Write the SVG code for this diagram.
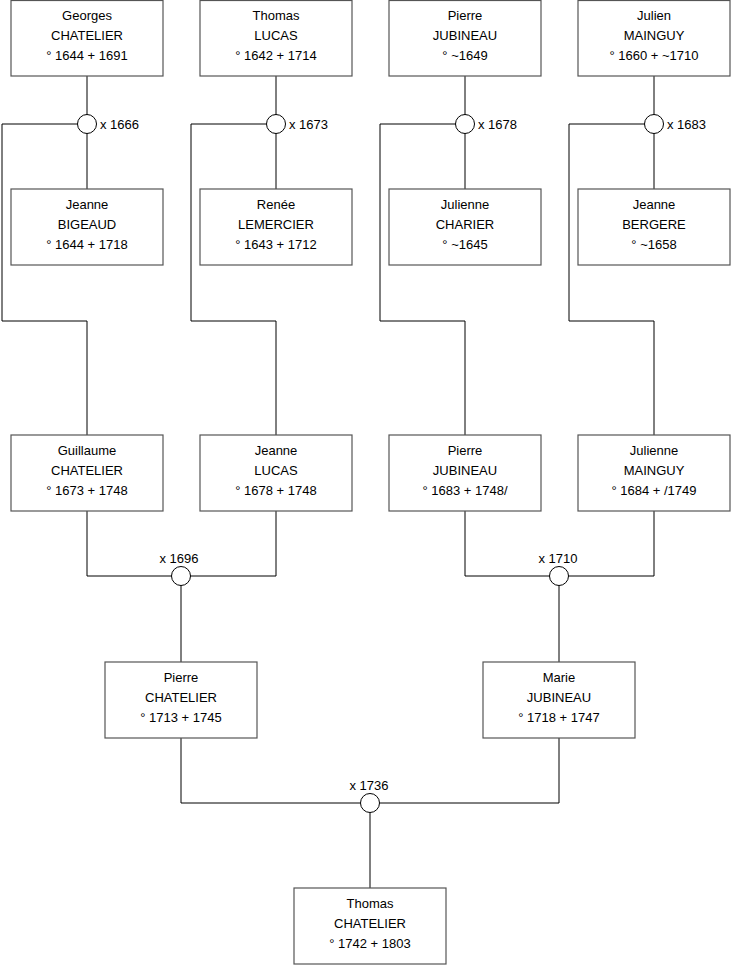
<svg xmlns="http://www.w3.org/2000/svg" width="740" height="975" viewBox="0 0 740 975">
<style>
.box{fill:#fff;stroke:#555;stroke-width:1.2}
.ln{fill:none;stroke:#000;stroke-width:1}
.ring{fill:#fff;stroke:#000;stroke-width:1}
text{font-family:"Liberation Sans",Arial,sans-serif;font-size:13px;fill:#000}
.c{text-anchor:middle}
</style>
<rect width="740" height="975" fill="#fff"/>
<g id="connectors">
<path class="ln" d="M87 76V189M2 124H87M2 124V321H87V435"/>
<path class="ln" d="M276 76V189M191 124H276M191 124V321H276V435"/>
<path class="ln" d="M465 76V189M380 124H465M380 124V321H465V435"/>
<path class="ln" d="M654 76V189M569 124H654M569 124V321H654V435"/>
<path class="ln" d="M87 511V576H276V511M181 576V662"/>
<path class="ln" d="M465 511V576H654V511M559 576V662"/>
<path class="ln" d="M181 738V803H559V738M370 803V888"/>
<circle class="ring" cx="87" cy="124" r="9.5"/>
<circle class="ring" cx="276" cy="124" r="9.5"/>
<circle class="ring" cx="465" cy="124" r="9.5"/>
<circle class="ring" cx="654" cy="124" r="9.5"/>
<circle class="ring" cx="181" cy="576" r="9.5"/>
<circle class="ring" cx="559" cy="576" r="9.5"/>
<circle class="ring" cx="370" cy="803" r="9.5"/>
<text x="100" y="129">x 1666</text>
<text x="289" y="129">x 1673</text>
<text x="478" y="129">x 1678</text>
<text x="667" y="129">x 1683</text>
<text class="c" x="179" y="563">x 1696</text>
<text class="c" x="558" y="563">x 1710</text>
<text class="c" x="369" y="790">x 1736</text>
</g>
<g id="georges">
<rect class="box" x="11" y="0.5" width="152" height="75.5"/>
<text class="c" x="87" y="20">Georges</text><text class="c" x="87" y="40">CHATELIER</text><text class="c" x="87" y="60">° 1644 + 1691</text>
</g>
<g id="thomas-lucas">
<rect class="box" x="200" y="0.5" width="152" height="75.5"/>
<text class="c" x="276" y="20">Thomas</text><text class="c" x="276" y="40">LUCAS</text><text class="c" x="276" y="60">° 1642 + 1714</text>
</g>
<g id="pierre-jubineau-1">
<rect class="box" x="389" y="0.5" width="152" height="75.5"/>
<text class="c" x="465" y="20">Pierre</text><text class="c" x="465" y="40">JUBINEAU</text><text class="c" x="465" y="60">° ~1649</text>
</g>
<g id="julien">
<rect class="box" x="578" y="0.5" width="152" height="75.5"/>
<text class="c" x="654" y="20">Julien</text><text class="c" x="654" y="40">MAINGUY</text><text class="c" x="654" y="60">° 1660 + ~1710</text>
</g>
<g id="jeanne-bigeaud">
<rect class="box" x="11" y="189" width="152" height="76"/>
<text class="c" x="87" y="209">Jeanne</text><text class="c" x="87" y="229">BIGEAUD</text><text class="c" x="87" y="249">° 1644 + 1718</text>
</g>
<g id="renee">
<rect class="box" x="200" y="189" width="152" height="76"/>
<text class="c" x="276" y="209">Renée</text><text class="c" x="276" y="229">LEMERCIER</text><text class="c" x="276" y="249">° 1643 + 1712</text>
</g>
<g id="julienne-charier">
<rect class="box" x="389" y="189" width="152" height="76"/>
<text class="c" x="465" y="209">Julienne</text><text class="c" x="465" y="229">CHARIER</text><text class="c" x="465" y="249">° ~1645</text>
</g>
<g id="jeanne-bergere">
<rect class="box" x="578" y="189" width="152" height="76"/>
<text class="c" x="654" y="209">Jeanne</text><text class="c" x="654" y="229">BERGERE</text><text class="c" x="654" y="249">° ~1658</text>
</g>
<g id="guillaume">
<rect class="box" x="11" y="435" width="152" height="76"/>
<text class="c" x="87" y="455">Guillaume</text><text class="c" x="87" y="475">CHATELIER</text><text class="c" x="87" y="495">° 1673 + 1748</text>
</g>
<g id="jeanne-lucas">
<rect class="box" x="200" y="435" width="152" height="76"/>
<text class="c" x="276" y="455">Jeanne</text><text class="c" x="276" y="475">LUCAS</text><text class="c" x="276" y="495">° 1678 + 1748</text>
</g>
<g id="pierre-jubineau-2">
<rect class="box" x="389" y="435" width="152" height="76"/>
<text class="c" x="465" y="455">Pierre</text><text class="c" x="465" y="475">JUBINEAU</text><text class="c" x="465" y="495">° 1683 + 1748/</text>
</g>
<g id="julienne-mainguy">
<rect class="box" x="578" y="435" width="152" height="76"/>
<text class="c" x="654" y="455">Julienne</text><text class="c" x="654" y="475">MAINGUY</text><text class="c" x="654" y="495">° 1684 + /1749</text>
</g>
<g id="pierre-chatelier">
<rect class="box" x="105" y="662" width="152" height="76"/>
<text class="c" x="181" y="682">Pierre</text><text class="c" x="181" y="702">CHATELIER</text><text class="c" x="181" y="722">° 1713 + 1745</text>
</g>
<g id="marie">
<rect class="box" x="483" y="662" width="152" height="76"/>
<text class="c" x="559" y="682">Marie</text><text class="c" x="559" y="702">JUBINEAU</text><text class="c" x="559" y="722">° 1718 + 1747</text>
</g>
<g id="thomas-chatelier">
<rect class="box" x="294" y="888" width="152" height="76"/>
<text class="c" x="370" y="908">Thomas</text><text class="c" x="370" y="928">CHATELIER</text><text class="c" x="370" y="948">° 1742 + 1803</text>
</g>
</svg>
